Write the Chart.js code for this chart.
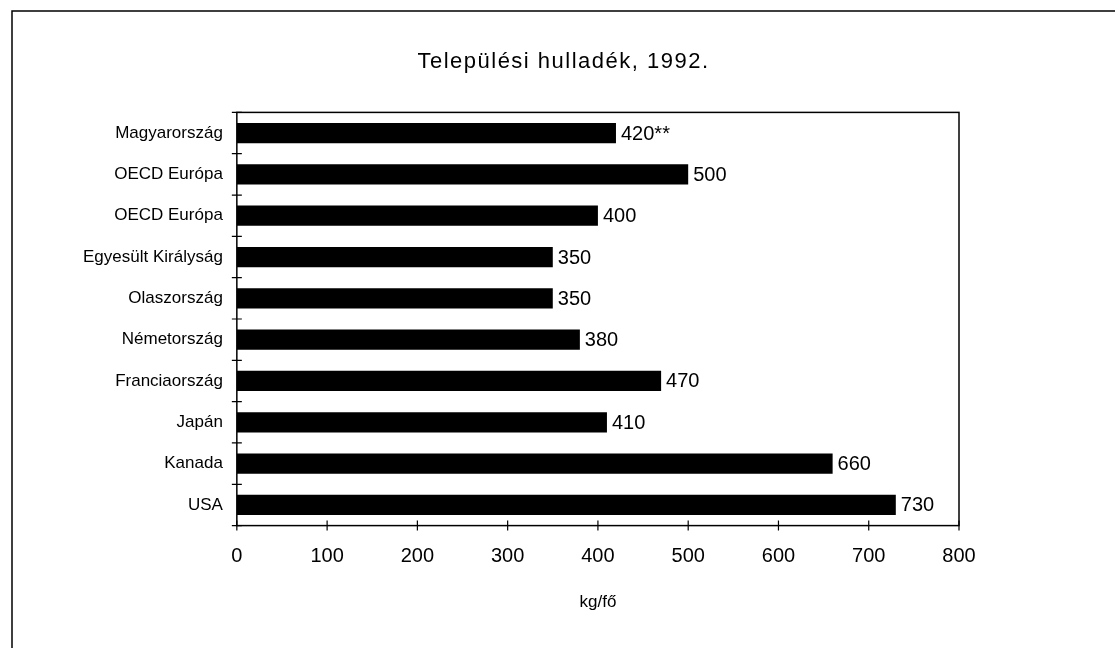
<!DOCTYPE html>
<html>
<head>
<meta charset="utf-8">
<title>Települési hulladék, 1992.</title>
<script src="https://cdn.jsdelivr.net/npm/chart.js@4/dist/chart.umd.min.js"></script>
<style>
  html, body { margin: 0; padding: 0; background: #fff; }
  #wrap { width: 1115px; height: 648px; position: relative; }
</style>
</head>
<body>
<div id="wrap"><canvas id="wasteChart"></canvas></div>
<script>
// data, top to bottom
const countries = ['Magyarország', 'OECD Európa', 'OECD Európa', 'Egyesült Királyság', 'Olaszország',
                   'Németország', 'Franciaország', 'Japán', 'Kanada', 'USA'];
const wastePerHead = [420, 500, 400, 350, 350, 380, 470, 410, 660, 730];
const valueLabels = ['420**', '500', '400', '350', '350', '380', '470', '410', '660', '730'];
const xTicks = [0, 100, 200, 300, 400, 500, 600, 700, 800];

const FONT = "'Liberation Sans', Arial, sans-serif";
const FRAME_X = 12, FRAME_Y = 11;

// frame round the whole picture (left + top only) and box round the plot
const framePlugin = {
    id: 'frame',
    afterInit(chart) {
        // title is centred in the outer frame and set a bit wide, like the scan
        const tb = chart.titleBlock;
        const origDraw = tb.draw.bind(tb);
        tb.draw = function () {
            const c = chart.ctx;
            c.save();
            c.letterSpacing = '1.5px';
            c.translate((chart.width + FRAME_X) / 2 - (tb.left + tb.right) / 2, 0);
            origDraw();
            c.restore();
        };
    },
    beforeDraw(chart) {
        const ctx = chart.ctx;
        ctx.save();
        ctx.strokeStyle = '#000';
        ctx.lineWidth = 1.5;
        ctx.beginPath();
        ctx.moveTo(FRAME_X, chart.height);
        ctx.lineTo(FRAME_X, FRAME_Y);
        ctx.lineTo(chart.width, FRAME_Y);
        ctx.stroke();
        ctx.restore();
    },
    afterDraw(chart) {
        const ctx = chart.ctx;
        const a = chart.chartArea;
        const xs = chart.scales.x, ys = chart.scales.y;
        ctx.save();
        ctx.strokeStyle = '#000';
        ctx.lineWidth = 1.5;
        ctx.strokeRect(a.left, a.top, a.right - a.left, a.bottom - a.top);
        // ticks crossing the axes
        ctx.lineWidth = 1.2;
        ctx.beginPath();
        xTicks.forEach(v => {
            const px = xs.getPixelForValue(v);
            ctx.moveTo(px, a.bottom - 5);
            ctx.lineTo(px, a.bottom + 5);
        });
        for (let i = 0; i <= countries.length; i++) {
            const py = ys.getPixelForValue(i - 0.5);
            ctx.moveTo(a.left - 5, py);
            ctx.lineTo(a.left + 5, py);
        }
        ctx.stroke();
        ctx.restore();
    }
};

// value labels at the bar ends
const valueLabelPlugin = {
    id: 'valueLabels',
    afterDatasetsDraw(chart) {
        const ctx = chart.ctx;
        const meta = chart.getDatasetMeta(0);
        ctx.save();
        ctx.fillStyle = '#000';
        ctx.font = '20px ' + FONT;
        ctx.textAlign = 'left';
        ctx.textBaseline = 'middle';
        meta.data.forEach((bar, i) => {
            ctx.fillText(valueLabels[i], bar.x + 5, bar.y + 1);
        });
        ctx.restore();
    }
};

const ctx = document.getElementById('wasteChart').getContext('2d');
new Chart(ctx, {
    type: 'bar',
    data: {
        labels: countries,
        datasets: [{
            data: wastePerHead,
            backgroundColor: '#000',
            borderWidth: 0,
            barPercentage: 0.49,
            categoryPercentage: 1.0
        }]
    },
    options: {
        indexAxis: 'y',
        responsive: true,
        maintainAspectRatio: false,
        animation: false,
        layout: { padding: { left: 69, right: 156, top: 0, bottom: 35 } },
        scales: {
            x: {
                min: 0,
                max: 800,
                afterBuildTicks: scale => { scale.ticks = xTicks.map(v => ({ value: v })); },
                grid: { display: false, drawTicks: false },
                border: { display: false },
                ticks: { color: '#000', font: { family: FONT, size: 20 }, padding: 19 },
                title: { display: true, text: 'kg/fő', color: '#000', font: { family: FONT, size: 17 },
                         padding: { top: 5, bottom: 0 } }
            },
            y: {
                grid: { display: false, drawTicks: false },
                border: { display: false },
                ticks: { color: '#000', font: { family: FONT, size: 17 }, padding: 14 }
            }
        },
        plugins: {
            legend: { display: false },
            tooltip: { enabled: false },
            title: {
                display: true,
                text: 'Települési hulladék, 1992.',
                color: '#000',
                font: { family: FONT, size: 22, weight: 'normal' },
                padding: { top: 49, bottom: 37 }
            }
        }
    },
    plugins: [framePlugin, valueLabelPlugin]
});
</script>
</body>
</html>
